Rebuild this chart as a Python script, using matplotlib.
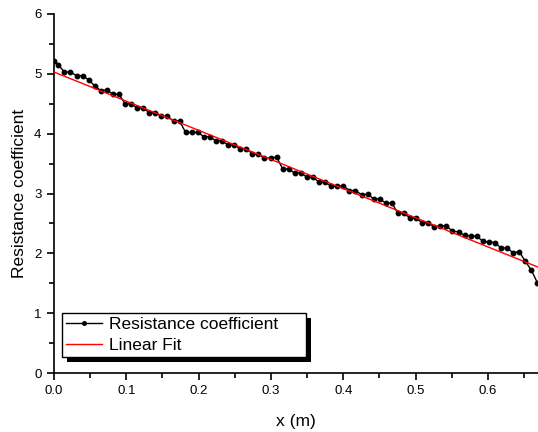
import numpy as np
import matplotlib
matplotlib.use("Agg")
import matplotlib.pyplot as plt
from matplotlib.ticker import MultipleLocator
from matplotlib.patches import Rectangle

plt.rcParams['font.family'] = ['Liberation Sans', 'DejaVu Sans']

# x positions (m)
x_pos = [0.0000, 0.0060, 0.0144, 0.0228, 0.0312, 0.0395, 0.0479, 0.0563, 0.0647, 0.0731,
         0.0815, 0.0899, 0.0982, 0.1066, 0.1150, 0.1234, 0.1318, 0.1402, 0.1486, 0.1569,
         0.1653, 0.1737, 0.1821, 0.1905, 0.1989, 0.2073, 0.2156, 0.2240, 0.2324, 0.2408,
         0.2492, 0.2576, 0.2660, 0.2743, 0.2827, 0.2911, 0.2995, 0.3079, 0.3163, 0.3247,
         0.3330, 0.3414, 0.3498, 0.3582, 0.3666, 0.3750, 0.3834, 0.3917, 0.4001, 0.4085,
         0.4169, 0.4253, 0.4337, 0.4421, 0.4504, 0.4588, 0.4672, 0.4756, 0.4840, 0.4924,
         0.5008, 0.5091, 0.5175, 0.5259, 0.5343, 0.5427, 0.5511, 0.5595, 0.5678, 0.5762,
         0.5846, 0.5930, 0.6014, 0.6098, 0.6182, 0.6265, 0.6349, 0.6433, 0.6517, 0.6601,
         0.6685]

# resistance coefficient values
resistance = [5.22, 5.15, 5.03, 5.03, 4.97, 4.97, 4.90, 4.80, 4.72, 4.73,
              4.66, 4.66, 4.50, 4.50, 4.43, 4.43, 4.35, 4.35, 4.29, 4.29,
              4.21, 4.21, 4.02, 4.02, 4.02, 3.95, 3.95, 3.88, 3.88, 3.81,
              3.81, 3.75, 3.75, 3.66, 3.66, 3.59, 3.59, 3.61, 3.41, 3.41,
              3.34, 3.35, 3.27, 3.27, 3.19, 3.19, 3.12, 3.12, 3.13, 3.05,
              3.05, 2.98, 2.99, 2.91, 2.91, 2.84, 2.84, 2.67, 2.67, 2.59,
              2.59, 2.51, 2.51, 2.44, 2.46, 2.46, 2.37, 2.36, 2.30, 2.29,
              2.29, 2.20, 2.19, 2.18, 2.09, 2.09, 2.01, 2.03, 1.87, 1.72,
              1.51]

# linear fit parameters
fit_intercept = 5.03
fit_slope = -4.87
fit_range = [0.0, 0.67]

x_ticks = [0.0, 0.1, 0.2, 0.3, 0.4, 0.5, 0.6]
x_tick_labels = ["0.0", "0.1", "0.2", "0.3", "0.4", "0.5", "0.6"]
y_ticks = [0, 1, 2, 3, 4, 5, 6]

W, H = 538, 432
fig = plt.figure(figsize=(W / 100, H / 100), dpi=100)
ax = fig.add_axes([54 / W, 1 - 373 / H, (W - 54) / W, (373 - 14) / H])

ax.plot(x_pos, resistance, color='black', lw=1.0, marker='o', ms=3.2,
        label='Resistance coefficient', zorder=3)
fx = np.array(fit_range)
ax.plot(fx, fit_intercept + fit_slope * fx, color='red', lw=1.0,
        label='Linear Fit', zorder=4)

ax.set_xlim(0, 0.6694)
ax.set_ylim(0, 6)
ax.set_xticks(x_ticks)
ax.set_xticklabels(x_tick_labels)
ax.set_yticks(y_ticks)
ax.xaxis.set_minor_locator(MultipleLocator(0.05))
ax.yaxis.set_minor_locator(MultipleLocator(0.5))
for s in ['top', 'right']:
    ax.spines[s].set_visible(False)
for s in ['left', 'bottom']:
    ax.spines[s].set_linewidth(1.2)
ax.tick_params(which='major', direction='out', length=5, width=1.2, labelsize=9.5, pad=4)
ax.tick_params(which='minor', direction='out', length=3.5, width=1.2)

ax.set_xlabel('x (m)', fontsize=12.5, labelpad=12)
ax.set_ylabel('Resistance coefficient', fontsize=12.5, labelpad=5)

# legend box in axes fraction
ax_w, ax_h = W - 54, 373 - 14
lx0 = (61.7 - 54) / ax_w
ly0 = (373 - 357) / ax_h
lw = (305.7 - 61.7) / ax_w
lh = (357 - 311) / ax_h
leg = ax.legend(loc='lower left', bbox_to_anchor=(lx0, ly0, lw, lh), mode='expand',
                borderaxespad=0, fontsize=12.5, frameon=True, fancybox=False,
                handlelength=2.1, handletextpad=0.4, borderpad=0.25, labelspacing=0.3,
                markerscale=0.8)
leg.get_frame().set_edgecolor('black')
leg.get_frame().set_linewidth(1.0)
leg.get_frame().set_alpha(None)
leg.get_frame().set_facecolor('white')
leg.set_zorder(10)

fig.canvas.draw()
bb = leg.get_frame().get_window_extent()
off = 5
shadow = Rectangle((bb.x0 + off, bb.y0 - off), bb.width, bb.height,
                   transform=None, facecolor='black', edgecolor='none',
                   zorder=9, clip_on=False)
ax.add_artist(shadow)

fig.savefig('out.png', dpi=100)
